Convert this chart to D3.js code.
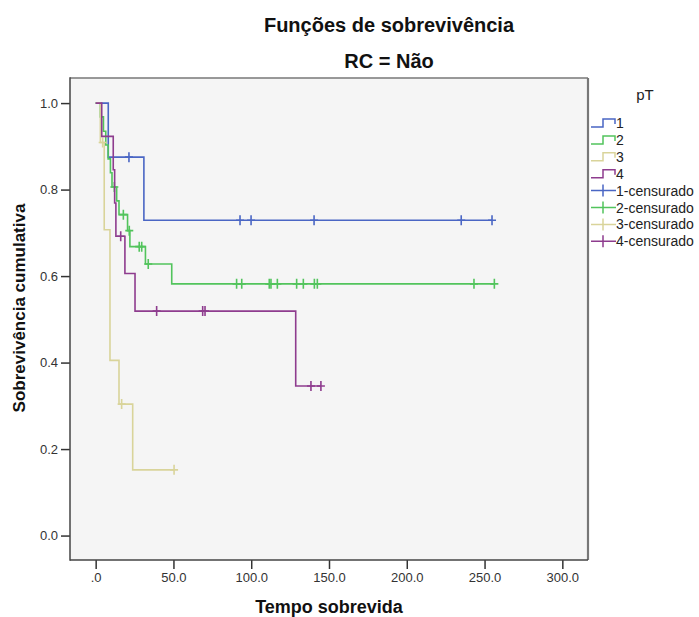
<!DOCTYPE html>
<html>
<head>
<meta charset="utf-8">
<script src="https://cdn.jsdelivr.net/npm/d3@7"></script>
<style>
  html, body { margin: 0; padding: 0; background: #ffffff; }
  svg { display: block; font-family: "Liberation Sans", Arial, sans-serif; }
</style>
</head>
<body>
<svg id="chart" width="699" height="617"></svg>
<script>
// Kaplan-Meier step curves by pT stage (RC = Não)
const groupNames = ["1", "2", "3", "4"];
const groupColors = ["#4a66c4", "#52c45c", "#d9d49a", "#8e3c8e"];

// event times and survival after each step (first point is the start at 1.0)
const times1 = [0, 8.1, 31.0];
const surv1 = [1.0, 0.875, 0.729];
const cens1 = [21.4, 92.8, 99.9, 140.4, 235.0, 254.8];

const times2 = [0, 3.0, 5.0, 6.5, 8.0, 9.5, 10.5, 13.5, 15.0, 20.5, 22.0, 32.0, 48.9];
const surv2 = [1.0, 0.968, 0.935, 0.903, 0.871, 0.839, 0.806, 0.774, 0.742, 0.705, 0.668, 0.628, 0.582];
const cens2 = [12.0, 17.8, 21.6, 28.0, 29.6, 33.8, 90.6, 93.9, 111.6, 112.7, 116.8, 129.2, 133.5, 140.6, 142.5, 243.2, 256.3];

const times3 = [0, 3.0, 5.5, 9.2, 15.0, 23.8];
const surv3 = [1.0, 0.909, 0.707, 0.405, 0.304, 0.152];
const cens3 = [4.5, 16.7, 50.4];

const times4 = [0, 3.9, 11.3, 12.2, 13.0, 18.8, 25.3, 128.6];
const surv4 = [1.0, 0.923, 0.846, 0.769, 0.692, 0.606, 0.519, 0.346];
const cens4 = [16.1, 39.2, 68.8, 70.3, 138.4, 144.8];

const xTicks = [0, 50, 100, 150, 200, 250, 300];
const yTicks = [0.0, 0.2, 0.4, 0.6, 0.8, 1.0];

const series = [
  { times: times1, surv: surv1, cens: cens1 },
  { times: times2, surv: surv2, cens: cens2 },
  { times: times3, surv: surv3, cens: cens3 },
  { times: times4, surv: surv4, cens: cens4 }
];

const svg = d3.select("#chart");
const plot = { left: 70, right: 588, top: 78, bottom: 560 };

const x = d3.scaleLinear().domain([-16.5, 316.5]).range([plot.left, plot.right]);
const y = d3.scaleLinear().domain([-0.0565, 1.058]).range([plot.bottom, plot.top]);

// plot background
svg.append("rect")
  .attr("x", plot.left).attr("y", plot.top)
  .attr("width", plot.right - plot.left).attr("height", plot.bottom - plot.top)
  .attr("fill", "#f5f5f5");

// titles
svg.append("text").attr("x", 389).attr("y", 32).attr("text-anchor", "middle")
  .attr("font-size", 20).attr("font-weight", "bold").attr("fill", "#111")
  .text("Funções de sobrevivência");
svg.append("text").attr("x", 389).attr("y", 68).attr("text-anchor", "middle")
  .attr("font-size", 20).attr("font-weight", "bold").attr("fill", "#111")
  .text("RC = Não");

// axes
const xAxis = d3.axisBottom(x).tickValues(xTicks).tickSize(9).tickPadding(4)
  .tickFormat(d => d === 0 ? ".0" : d3.format(".1f")(d));
const yAxis = d3.axisLeft(y).tickValues(yTicks).tickSize(9).tickPadding(3)
  .tickFormat(d3.format(".1f"));

const gx = svg.append("g").attr("transform", `translate(0,${plot.bottom})`).call(xAxis);
const gy = svg.append("g").attr("transform", `translate(${plot.left},0)`).call(yAxis);
[gx, gy].forEach(g => {
  g.select(".domain").remove();
  g.selectAll(".tick line").attr("stroke", "#333").attr("stroke-width", 1.5);
  g.selectAll(".tick text").attr("font-size", 13).attr("fill", "#333")
    .attr("font-family", "Liberation Sans, Arial, sans-serif");
});

// frame
svg.append("line").attr("x1", plot.left).attr("x2", plot.right).attr("y1", plot.top).attr("y2", plot.top)
  .attr("stroke", "#777").attr("stroke-width", 1.5);
svg.append("line").attr("x1", plot.right).attr("x2", plot.right).attr("y1", plot.top).attr("y2", plot.bottom)
  .attr("stroke", "#777").attr("stroke-width", 2.2);
svg.append("line").attr("x1", plot.left).attr("x2", plot.left).attr("y1", plot.top - 0.75).attr("y2", plot.bottom + 0.75)
  .attr("stroke", "#444").attr("stroke-width", 1.5);
svg.append("line").attr("x1", plot.left).attr("x2", plot.right).attr("y1", plot.bottom).attr("y2", plot.bottom)
  .attr("stroke", "#444").attr("stroke-width", 1.5);

// axis titles
svg.append("text").attr("x", 329).attr("y", 613).attr("text-anchor", "middle")
  .attr("font-size", 18).attr("font-weight", "bold").attr("fill", "#111")
  .text("Tempo sobrevida");
svg.append("text").attr("transform", "translate(25,308) rotate(-90)").attr("text-anchor", "middle")
  .attr("font-size", 17).attr("font-weight", "bold").attr("fill", "#111")
  .text("Sobrevivência cumulativa");

// survival value at time t for a step series
function survAt(s, t) {
  let v = s.surv[0];
  for (let i = 0; i < s.times.length; i++) if (s.times[i] <= t) v = s.surv[i];
  return v;
}

const curves = svg.append("g");
series.forEach((s, gi) => {
  const tEnd = Math.max(d3.max(s.times), d3.max(s.cens));
  const pts = s.times.map((t, i) => [t, s.surv[i]]);
  pts.push([tEnd, s.surv[s.surv.length - 1]]);
  const line = d3.line().x(d => x(d[0])).y(d => y(d[1])).curve(d3.curveStepAfter);
  curves.append("path").attr("d", line(pts))
    .attr("fill", "none").attr("stroke", groupColors[gi]).attr("stroke-width", 1.6);
  // censoring marks
  curves.selectAll(null).data(s.cens).enter().append("path")
    .attr("d", t => {
      const cx = x(t), cy = y(survAt(s, t));
      return `M${cx - 4},${cy}H${cx + 4}M${cx},${cy - 5}V${cy + 5}`;
    })
    .attr("fill", "none").attr("stroke", groupColors[gi]).attr("stroke-width", 1.6);
});

// legend
const lg = svg.append("g");
lg.append("text").attr("x", 645).attr("y", 100).attr("text-anchor", "middle")
  .attr("font-size", 15).attr("fill", "#222").text("pT");
const rowY = i => 123 + i * 16.9;
groupNames.forEach((name, i) => {
  const cy = rowY(i);
  lg.append("path").attr("d", `M591,${cy + 4}H603V${cy - 4}H615V${cy + 1}`)
    .attr("fill", "none").attr("stroke", groupColors[i]).attr("stroke-width", 1.5);
  lg.append("text").attr("x", 616).attr("y", cy + 5).attr("font-size", 14).attr("fill", "#222").text(name);
});
groupNames.forEach((name, i) => {
  const cy = rowY(i + 4);
  lg.append("path").attr("d", `M591,${cy}H616M603,${cy - 6}V${cy + 6}`)
    .attr("fill", "none").attr("stroke", groupColors[i]).attr("stroke-width", 1.5);
  lg.append("text").attr("x", 616).attr("y", cy + 5).attr("font-size", 14).attr("fill", "#222").text(name + "-censurado");
});
</script>
</body>
</html>
